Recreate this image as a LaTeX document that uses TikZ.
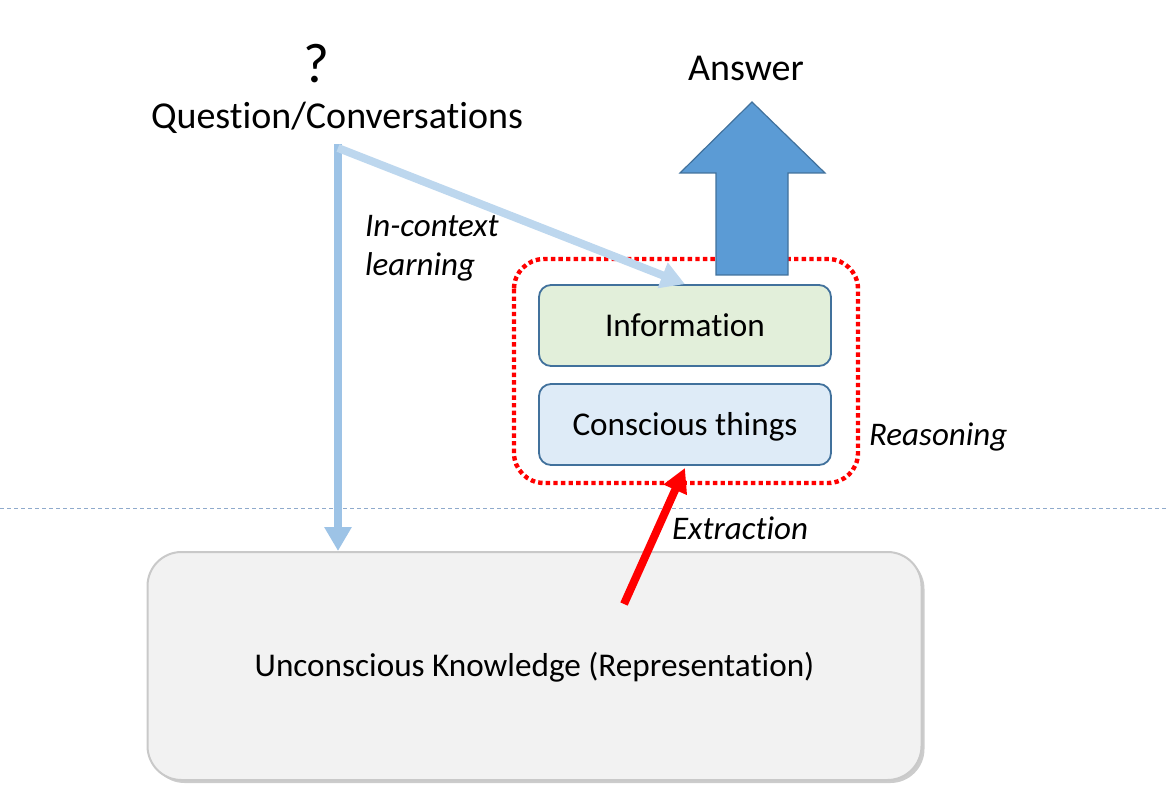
\documentclass[tikz,border=0pt]{standalone}
\usepackage{fontspec}
\setmainfont{Carlito}[Ligatures=NoCommon]
\usetikzlibrary{arrows.meta,shadows}
\definecolor{infofill}{HTML}{E2EFDA}
\definecolor{consfill}{HTML}{DEEBF7}
\definecolor{boxedge}{HTML}{41719C}
\definecolor{ansfill}{HTML}{5B9BD5}
\definecolor{lbA}{HTML}{9DC3E6}
\definecolor{lbB}{HTML}{BDD7EE}
\definecolor{ukfill}{HTML}{F2F2F2}
\definecolor{ukedge}{HTML}{C9C9C9}
\definecolor{sepline}{HTML}{8FAACC}
\tikzset{
  innerbox/.style={draw=boxedge, line width=0.9pt, rounded corners=6pt, minimum width=146pt, minimum height=40.5pt,
    text height=10.7pt, text depth=0pt, font=\fontsize{16.6}{19}\selectfont},
  lbl/.style={font=\fontsize{16.5}{19.5}\selectfont\itshape},
  bluearrow/.style={line width=3.6pt, -{Triangle[length=12pt,width=13pt]}},
}
\begin{document}
\begin{tikzpicture}[x=0.5pt,y=-0.5pt]
\useasboundingbox (0,0) rectangle (1169,797);
% separator
\draw[sepline, line width=0.5pt, dash pattern=on 2pt off 1.5pt] (0,508) -- (1169,508);
% big box
\node[draw=ukedge, line width=1pt, fill=ukfill, rounded corners=17pt, minimum width=387pt, minimum height=114pt,
  drop shadow={shadow xshift=1.5pt, shadow yshift=-1.5pt, fill=black!40, opacity=0.5},
  text height=10.7pt, text depth=0pt,
  font=\fontsize{16.6}{19}\selectfont] (uk) at (534.5,666) {Unconscious Knowledge (Representation)};
% reasoning region
\draw[red, line width=2.2pt, dash pattern=on 2.2pt off 1.6pt, rounded corners=15pt] (514,259) rectangle (858,483);
% inner boxes
\node[innerbox, fill=infofill] (info) at (685,325.5) {Information};
\node[innerbox, fill=consfill] (cons) at (685,424.5) {Conscious things};
% answer arrow
\draw[boxedge, fill=ansfill, line width=0.6pt] (716,275) -- (716,173) -- (680,173) -- (752,102) -- (825,173) -- (788,173) -- (788,275) -- cycle;
\node[font=\fontsize{19}{22}\selectfont] (ans) at (746,68) {Answer};
% question
\node[font=\fontsize{28}{30}\selectfont] (qm) at (316,64) {?};
\node[font=\fontsize{19}{22}\selectfont] (q) at (337,118) {Question/Conversations};
\coordinate (qc) at (338,148);
% connectors
\draw[lbA, bluearrow] ([yshift=2pt]qc) -- (qc |- uk.north);
\draw[lbB, line width=4pt, -{Triangle[length=12pt,width=13pt]}] (qc) -- (info.north);
\coordinate (ex) at (624,604);
\draw[red, line width=4pt, -{Triangle[length=12pt,width=12pt]}] (ex) -- ([yshift=-1pt]cons.south);
% labels
\node[lbl, anchor=west, align=left] (icl) at (358,248) {In-context\\learning};
\node[lbl, anchor=west] (rl) at (862,437) {Reasoning};
\node[lbl, anchor=west] (el) at (665,528) {Extraction};
\end{tikzpicture}
\end{document}
